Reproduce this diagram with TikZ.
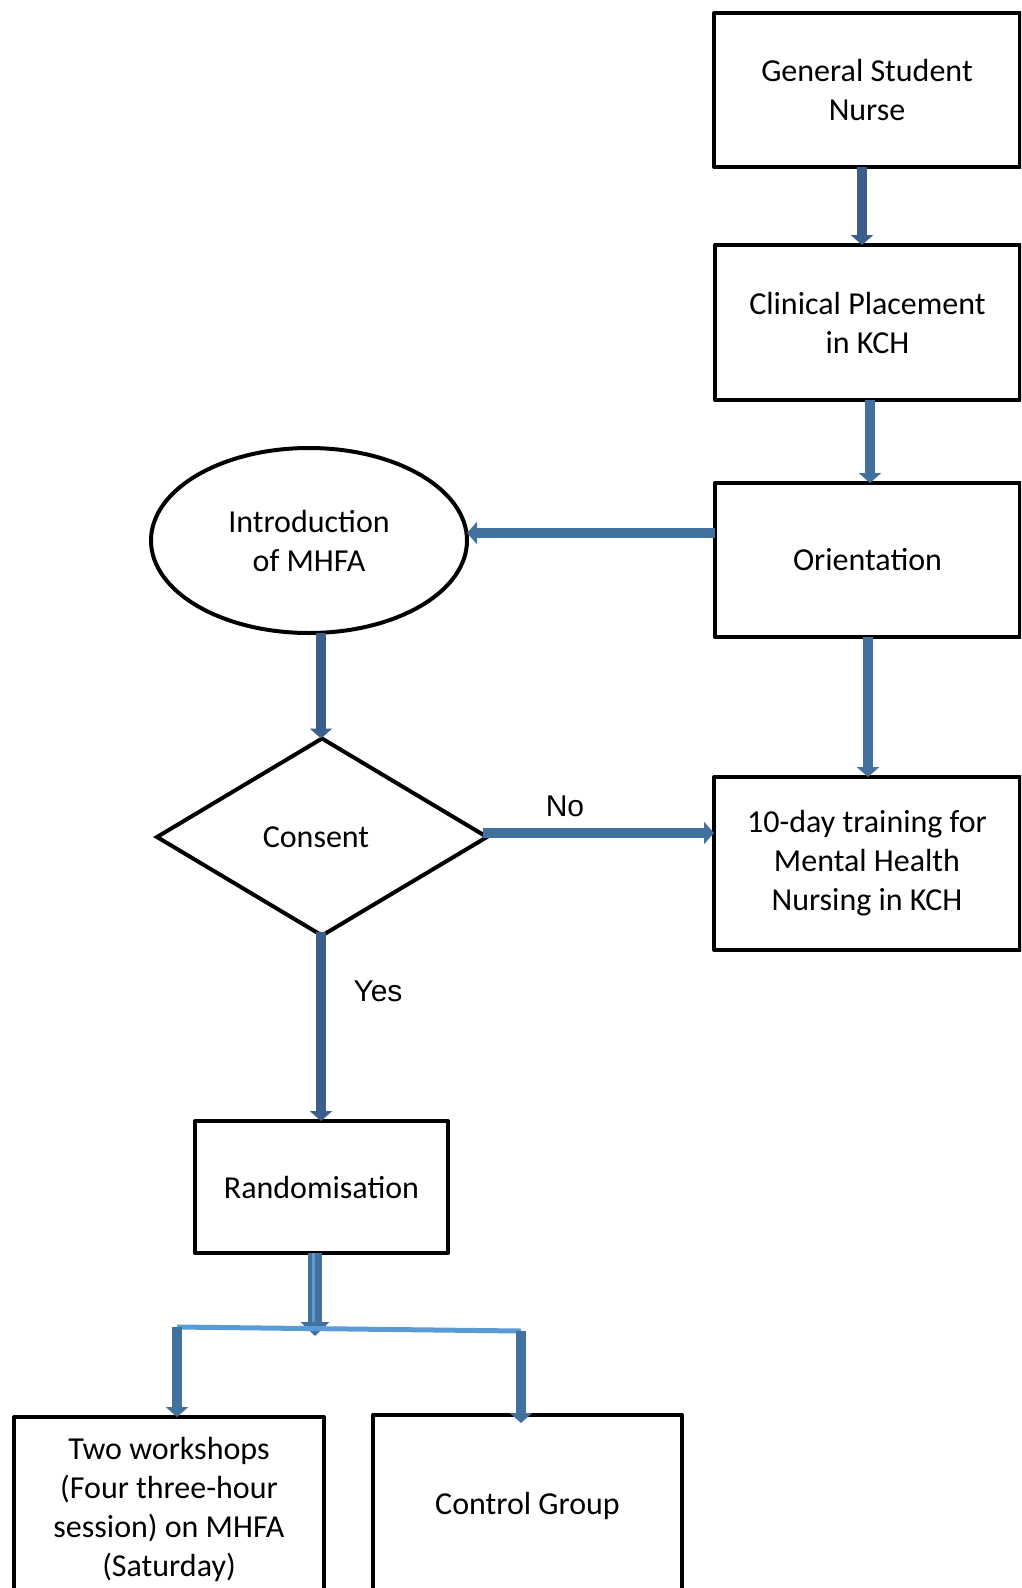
\documentclass[tikz,border=0pt]{standalone}
\usepackage{fontspec}
\setmainfont{Carlito}
\newfontfamily\labelfont{Liberation Sans}
\usetikzlibrary{arrows.meta,shapes.geometric}
\definecolor{flowblue}{HTML}{41719C}
\definecolor{flowdark}{HTML}{3B5E8A}
\definecolor{splitblue}{HTML}{5B9BD5}

\begin{document}
\begin{tikzpicture}[x=1pt,y=-1pt,
  every node/.style={font=\fontsize{32}{39}\selectfont},
  box/.style={draw=black,line width=4pt,line join=round,rectangle,inner sep=0pt,outer sep=0pt,align=center},
  oval/.style={draw=black,line width=4pt,ellipse,inner sep=0pt,outer sep=0pt,align=center},
  decision/.style={draw=black,line width=4pt,diamond,inner sep=0pt,outer sep=0pt,align=center},
  flow/.style={draw=flowblue,line width=10pt,-{Triangle[width=22pt,length=10pt]}},
  flowd/.style={flow,draw=flowdark,fill=flowdark},
  splitline/.style={draw=splitblue,line width=5pt},
  answer/.style={font=\labelfont\fontsize{30}{36}\selectfont,inner sep=0pt}
]
\useasboundingbox (0,0) rectangle (1021,1588);
\clip (0,0) rectangle (1021,1588);
\fill[white] (0,0) rectangle (1021,1588);

% process boxes on the right
\node[box,minimum width=306pt,minimum height=154pt] (gsn) at (867,90) {General Student\\Nurse};
\node[box,minimum width=305pt,minimum height=155pt] (cp) at (867.5,322.5) {Clinical Placement\\in KCH};
\node[box,minimum width=305pt,minimum height=154pt] (orient) at (867.5,560) {Orientation};
\node[box,minimum width=306pt,minimum height=173pt] (train) at (867,863.5) {10-day training for\\Mental Health\\Nursing in KCH};

% left branch
\node[oval,minimum width=316pt,minimum height=185pt] (intro) at (309,540.5) {Introduction\\of MHFA};
\node[decision,minimum width=330pt,minimum height=197pt] (consent) at (322,837) {\hspace*{-12pt}Consent};
\node[box,minimum width=253pt,minimum height=132pt] (rand) at (321.5,1187) {Randomisation};
\node[box,minimum width=310pt,minimum height=184pt] (work) at (169,1509) {Two workshops\\(Four three-hour\\session) on MHFA\\(Saturday)};
\node[box,minimum width=309pt,minimum height=182pt] (ctrl) at (527.5,1506) {Control Group};

% split points below the randomisation box
\coordinate (jl) at (177,1327);
\coordinate (jr) at (521,1331);
\coordinate (jtip) at (315,1336);

% connectors
\draw[flowd] (gsn.south -| 862,0) -- (cp.north -| 862,0);
\draw[flow] (cp.south -| 870,0) -- (orient.north -| 870,0);
\draw[flow] (orient.west |- 0,533) -- (intro.east |- 0,533);
\draw[flowd] (intro.south -| 321,0) -- (consent.north -| 321,0);
\draw[flow] (orient.south -| 868,0) -- (train.north -| 868,0);
\draw[flow] ([xshift=-4pt]consent.east |- 0,833) -- (train.west |- 0,833);
\draw[flowd] ([yshift=4pt]consent.south -| 321,0) -- (rand.north -| 321,0);

\draw[flow,line width=14pt,-{Triangle[width=28pt,length=14pt]}] (rand.south -| 315,0) -- (jtip);
\draw[draw=splitblue,line width=3pt] (rand.south -| 313,0) -- (313,1322);
\draw[splitline] (jl) -- (jr);
\draw[flow] (jl) -- (work.north -| jl);
\draw[flow] (jr) -- ([yshift=-8pt]ctrl.north -| jr);

% answer labels
\node[answer] (no) at (565,806) {No};
\node[answer] (yes) at (378,991) {Yes};
\end{tikzpicture}
\end{document}
